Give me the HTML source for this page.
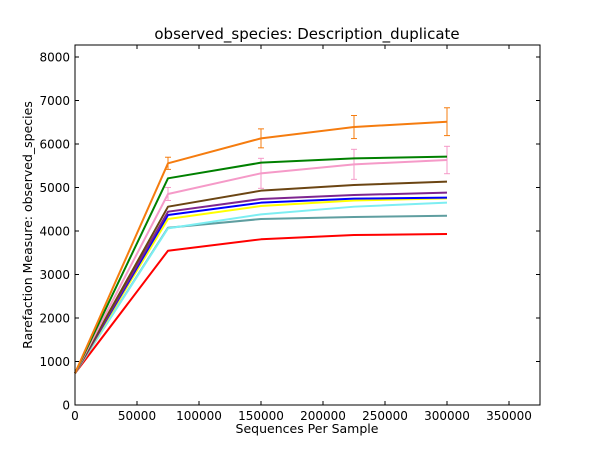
<!DOCTYPE html>
<html><head><meta charset="utf-8"><style>
html,body{margin:0;padding:0;background:#fff;}
svg{display:block;font-family:"DejaVu Sans","Liberation Sans",sans-serif;}
</style></head><body>
<svg id="chart" width="600" height="450">
<rect width="600" height="450" fill="#fff"/>
<text x="307" y="39" font-size="15" text-anchor="middle">observed_species: Description_duplicate</text>
<text x="307" y="433" font-size="12.5" text-anchor="middle">Sequences Per Sample</text>
<text transform="translate(32,225) rotate(-90)" font-size="12.5" text-anchor="middle">Rarefaction Measure: observed_species</text>
<g id="ticks"></g>
<g id="series"></g>
<rect x="75" y="45" width="465" height="360" fill="none" stroke="#000" stroke-width="1"/>
</svg>
<script>
const xValues = [1, 75000, 150000, 225000, 300000];
const xTicks = [0, 50000, 100000, 150000, 200000, 250000, 300000, 350000];
const yTicks = [0, 1000, 2000, 3000, 4000, 5000, 6000, 7000, 8000];
const seriesNames = ['orange','green','pink','brown','purple','blue','yellow','cyan','teal','red'];
const seriesColors = ['#f57c0f','#008000','#f59ac8','#6b4513','#7e2590','#0000ff','#ffff00','#7deef2','#5f9ea0','#ff0000'];
const orangeValues = [730, 5556, 6130, 6390, 6513];
const greenValues = [730, 5211, 5571, 5670, 5709];
const pinkValues = [730, 4851, 5326, 5533, 5632];
const brownValues = [730, 4559, 4927, 5057, 5134];
const purpleValues = [730, 4444, 4736, 4828, 4881];
const blueValues = [730, 4368, 4651, 4743, 4766];
const yellowValues = [730, 4276, 4575, 4700, 4750];
const cyanValues = [730, 4061, 4383, 4559, 4651];
const tealValues = [730, 4076, 4276, 4322, 4352];
const redValues = [730, 3547, 3809, 3908, 3931];
const orangeErrors = [0, 140, 218, 265, 320];
const pinkErrors = [0, 150, 345, 345, 315];

const X0=75, X1=540, Y0=405, Y1=45, XMAX=375000, YMAX=8276;
const sx = v => X0 + v/XMAX*(X1-X0);
const sy = v => Y0 - v/YMAX*(Y0-Y1);
const NS='http://www.w3.org/2000/svg';
function mk(tag, attrs, parent){const e=document.createElementNS(NS,tag);for(const k in attrs)e.setAttribute(k,attrs[k]);parent.appendChild(e);return e;}
const tg=document.getElementById('ticks'), sg=document.getElementById('series');
xTicks.forEach(t=>{
  const x=sx(t);
  const l=mk('line',{x1:x,x2:x,y1:Y0,y2:Y0-4,stroke:'#000'},tg);
  
  
  const l2=mk('line',{x1:x,x2:x,y1:Y1,y2:Y1+4,stroke:'#000'},tg);
  
  
  const tx=mk('text',{x:x,y:Y0+15,'font-size':12,'text-anchor':'middle'},tg);
  tx.textContent=t;
  
  
});
yTicks.forEach(t=>{
  const y=sy(t);
  const l=mk('line',{x1:X0,x2:X0+4,y1:y,y2:y,stroke:'#000'},tg);
  
  
  const l2=mk('line',{x1:X1,x2:X1-4,y1:y,y2:y,stroke:'#000'},tg);
  
  
  const tx=mk('text',{x:X0-5,y:y+4.5,'font-size':12,'text-anchor':'end'},tg);
  tx.textContent=t;
  
  
});
const allValues=[orangeValues,greenValues,pinkValues,brownValues,purpleValues,blueValues,yellowValues,cyanValues,tealValues,redValues];
const drawOrder=[9,8,7,6,5,4,3,2,1,0];
function errBars(vals, errs, color, name){
  vals.forEach((v,i)=>{
    if(!errs[i])return;
    const x=sx(xValues[i]);
    const g=mk('g',{stroke:color,'stroke-width':1},sg);
    
    
    mk('line',{x1:x,x2:x,y1:sy(v-errs[i]),y2:sy(v+errs[i])},g);
    mk('line',{x1:x-3,x2:x+3,y1:sy(v-errs[i]),y2:sy(v-errs[i])},g);
    mk('line',{x1:x-3,x2:x+3,y1:sy(v+errs[i]),y2:sy(v+errs[i])},g);
  });
}
errBars(pinkValues,pinkErrors,seriesColors[2],'pink');
drawOrder.forEach(i=>{
  const pts=allValues[i].map((v,j)=>sx(xValues[j])+','+sy(v)).join(' ');
  const p=mk('polyline',{points:pts,fill:'none',stroke:seriesColors[i],'stroke-width':2,'stroke-linejoin':'round'},sg);
  
  
});
errBars(orangeValues,orangeErrors,seriesColors[0],'orange');
</script>
</body></html>
